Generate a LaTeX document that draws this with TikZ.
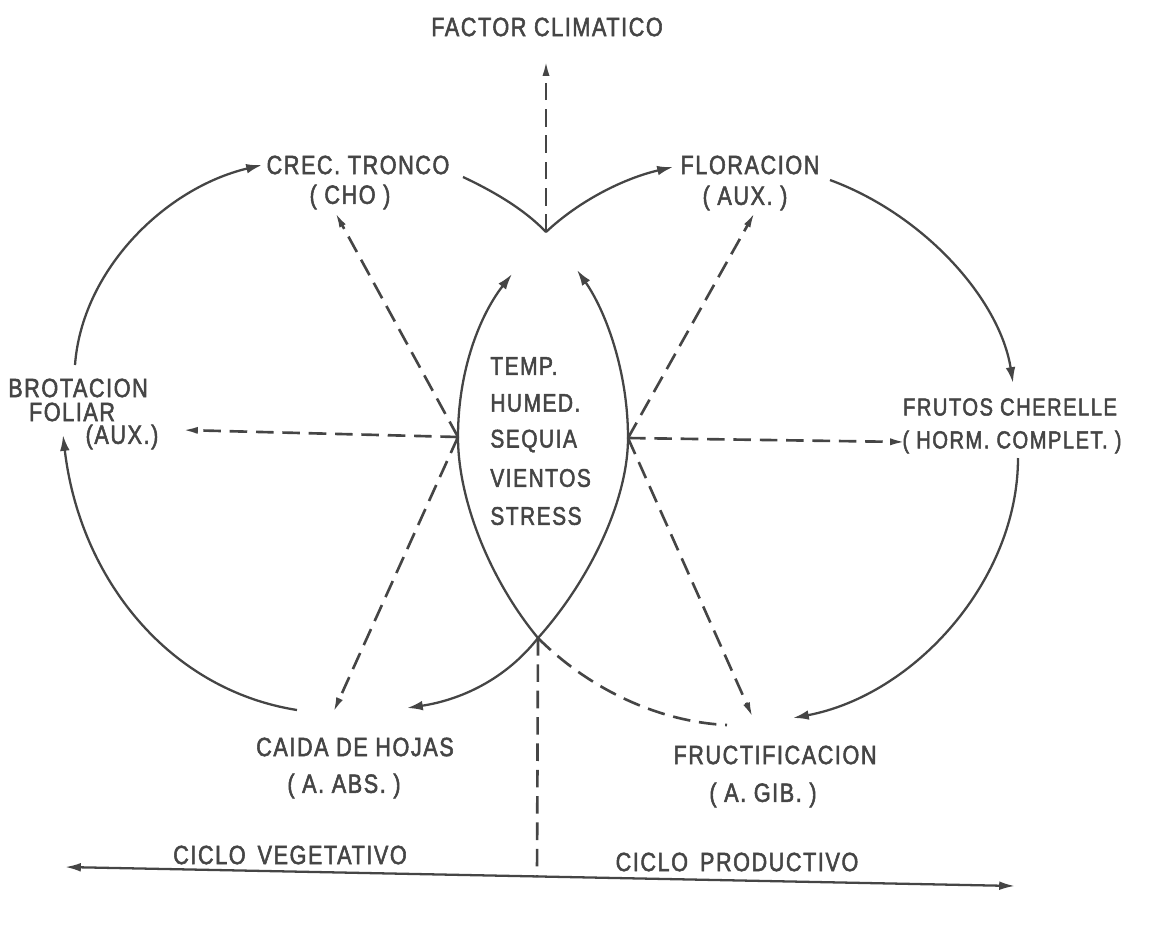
\documentclass[tikz,border=0pt]{standalone}
\usepackage{fontspec}
\setmainfont{Liberation Sans}[FakeStretch=0.82,LetterSpace=6,FakeBold=2]
\usetikzlibrary{arrows.meta}
\definecolor{ink}{HTML}{454545}
\begin{document}
\begin{tikzpicture}[x=0.02cm,y=-0.02cm,
  lbl/.style={font=\fontsize{15}{17}\selectfont, text=ink, inner sep=0pt},
  slbl/.style={font=\fontsize{14}{16}\selectfont, text=ink, inner sep=0pt},
  clbl/.style={font=\fontsize{14.5}{16}\selectfont, text=ink, inner sep=0pt, anchor=west},
  solidline/.style={draw=ink, line width=1.3pt},
  solidarr/.style={solidline, -{Latex[length=9pt,width=5.5pt]}},
  dashline/.style={draw=ink, line width=1.5pt, dash pattern=on 10pt off 5pt},
  dasharr/.style={dashline, -{Latex[length=9pt,width=4pt]}},
  dualarr/.style={solidline, {Latex[length=9pt,width=5pt]}-{Latex[length=9pt,width=5pt]}}
]
\useasboundingbox (0,0) rectangle (1163,927);

% labels
\node[lbl] (fc) at (547,27) {FACTOR CLIMATICO};
\node[lbl] (crec) at (358,165) {CREC. TRONCO};
\node[lbl] (cho) at (350,197) {( CHO )};
\node[lbl] (flor) at (750,165) {FLORACION};
\node[lbl] (floraux) at (745,198) {( AUX. )};
\node[lbl] (brot) at (78,388) {BROTACION};
\node[lbl] (fol) at (72,412) {FOLIAR};
\node[lbl] (brotaux) at (122,437) {(AUX.)};
\node[slbl] (frut) at (1010,407) {FRUTOS CHERELLE};
\node[slbl] (horm) at (1012,442) {( HORM. COMPLET. )};
\node[lbl] (caida) at (355,747) {CAIDA DE HOJAS};
\node[lbl] (abs) at (344,786) {( A. ABS. )};
\node[lbl] (fruct) at (775,755) {FRUCTIFICACION};
\node[lbl] (gib) at (763,795) {( A. GIB. )};
\node[lbl] (veg) at (290,855) {CICLO\, VEGETATIVO};
\node[lbl] (prod) at (737,862) {CICLO\, PRODUCTIVO};

\node[clbl] (t1) at (490,366) {TEMP.};
\node[clbl] (t2) at (490,403) {HUMED.};
\node[clbl] (t3) at (490,441) {SEQUIA};
\node[clbl] (t4) at (490,478) {VIENTOS};
\node[clbl] (t5) at (490,516) {STRESS};

% key points
\coordinate (V) at (546,232);
\coordinate (FCt) at (546,60);
\coordinate (Vl) at (463,177);
\coordinate (Vr) at (673,167);
\coordinate (L) at (458,437);
\coordinate (R) at (628,438);
\coordinate (X) at (538,638);
\coordinate (Bl) at (65,867);
\coordinate (Br) at (1015,886);
\coordinate (Bm) at (537,877);

% top
\draw[dasharr] (V) -- (FCt);
\draw[solidline] (Vl) .. controls (495,192) and (525,210) .. (V);
\draw[solidarr] (V) .. controls (580,200) and (625,178) .. (Vr);

% left big circle
\coordinate (LUs) at (75,365);
\coordinate (LUe) at (262,165);
\coordinate (LLs) at (297,710);
\coordinate (LLe) at (63,435);
\draw[solidarr] (LUs) .. controls (82,270) and (165,188) .. (LUe);
\draw[solidarr] (LLs) .. controls (170,690) and (80,580) .. (LLe);

% right big circle
\coordinate (RUs) at (830,180);
\coordinate (RUe) at (1013,383);
\coordinate (RLs) at (1018,458);
\coordinate (RLe) at (793,718);
\draw[solidarr] (RUs) .. controls (925,215) and (1000,300) .. (RUe);
\draw[solidarr] (RLs) .. controls (1018,580) and (915,695) .. (RLe);

% lens
\coordinate (LTt) at (512,274);
\coordinate (RTt) at (577,270);
\draw[solidarr] (X) .. controls (490,580) and (458,500) .. (L)
   .. controls (458,370) and (480,315) .. (LTt);
\draw[solidarr] (X) .. controls (590,580) and (628,500) .. (R)
   .. controls (628,370) and (605,310) .. (RTt);
\coordinate (CAt) at (407,708);
\draw[solidarr] (X) .. controls (505,680) and (460,700) .. (CAt);
\coordinate (FRe) at (727,725);
\draw[dashline] (X) .. controls (590,690) and (660,722) .. (FRe);
\draw[dashline] (X) -- (Bm);

% bottom axis
\draw[dualarr] (Bl) -- (Br);

% radiating dashed arrows
\coordinate (Lw) at (182,430);
\coordinate (Lnw) at (335,212);
\coordinate (Lsw) at (333,713);
\coordinate (Rne) at (755,212);
\coordinate (Re) at (906,442);
\coordinate (Rse) at (753,718);
\draw[dasharr] (L) -- (Lw);
\draw[dasharr] (L) -- (Lnw);
\draw[dasharr] (L) -- (Lsw);
\draw[dasharr] (R) -- (Rne);
\draw[dasharr] (R) -- (Re);
\draw[dasharr] (R) -- (Rse);
\end{tikzpicture}
\end{document}
